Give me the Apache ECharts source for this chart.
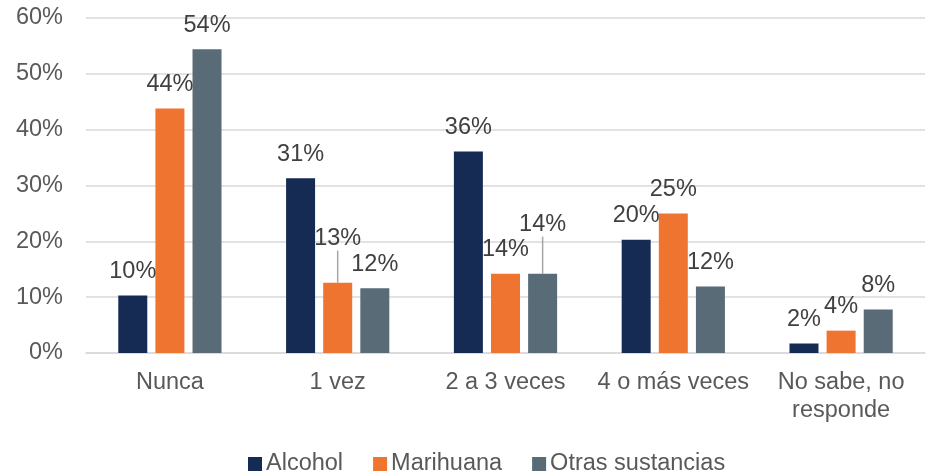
<!DOCTYPE html>
<html>
<head>
<meta charset="utf-8">
<script src="https://cdn.jsdelivr.net/npm/echarts@6/dist/echarts.min.js"></script>
<style>
  html, body { margin: 0; padding: 0; background: #fff; }
  #chart { width: 930px; height: 471px; }
</style>
</head>
<body>
<div id="chart"></div>
<script>
// categorias y valores (%)
const categories = ["Nunca", "1 vez", "2 a 3 veces", "4 o más veces", "No sabe, no\nresponde"];
const alcohol = [10.3, 31.3, 36.1, 20.3, 1.7];
const marihuana = [43.8, 12.6, 14.2, 25.0, 4.0];
const otras = [54.4, 11.6, 14.2, 11.9, 7.8];
const yTicks = [0, 10, 20, 30, 40, 50, 60];

// etiquetas desplazadas con linea guia: [serie, indice, dy]
const moved = [[1, 1, -20], [2, 2, -25]];

const font = "Arial, 'Liberation Sans', sans-serif";

function buildData(values, seriesIndex) {
    return values.map((v, i) => {
        const m = moved.find((x) => x[0] === seriesIndex && x[1] === i);
        if (!m) return v;
        return {
            value: v,
            labelLine: { show: true, lineStyle: { color: "#a6a6a6", width: 1.5 } },
        };
    });
}

function makeSeries(name, values, color, seriesIndex) {
    return {
        name: name,
        type: "bar",
        barWidth: 29,
        barGap: "28%",
        itemStyle: { color: color },
        data: buildData(values, seriesIndex),
        label: {
            show: true,
            position: "top",
            distance: 12,
            color: "#404040",
            fontSize: 23.5,
            fontFamily: font,
            formatter: (p) => Math.round(p.value) + "%",
        },
        labelLayout: (params) => {
            const m = moved.find((x) => x[0] === seriesIndex && x[1] === params.dataIndex);
            return m ? { dy: m[2] } : {};
        },
    };
}

const chart = echarts.init(document.getElementById("chart"));

const option = {
    backgroundColor: "#ffffff",
    animation: false,
    grid: { left: 86, right: 5, top: 18, bottom: 118 },
    legend: {
        top: 447,
        left: 243,
        itemWidth: 14,
        itemHeight: 14,
        itemGap: 30,
        icon: "rect",
        textStyle: { color: "#595959", fontSize: 23.5, fontFamily: font, padding: [0, 0, 0, -1] },
        data: ["Alcohol", "Marihuana", "Otras sustancias"],
    },
    xAxis: {
        type: "category",
        data: categories,
        axisLine: { lineStyle: { color: "#d9d9d9", width: 1.5 } },
        axisTick: { show: false },
        axisLabel: {
            color: "#595959",
            fontSize: 23.5,
            fontFamily: font,
            margin: 16,
            lineHeight: 28,
            interval: 0,
        },
    },
    yAxis: {
        type: "value",
        min: yTicks[0],
        max: yTicks[yTicks.length - 1],
        interval: 10,
        axisLine: { show: false },
        axisTick: { show: false },
        splitLine: { lineStyle: { color: "#d9d9d9", width: 1.5 } },
        axisLabel: {
            color: "#595959",
            fontSize: 23.5,
            fontFamily: font,
            margin: 23,
            formatter: "{value}%",
        },
    },
    series: [
        makeSeries("Alcohol", alcohol, "#152b54", 0),
        makeSeries("Marihuana", marihuana, "#ee7430", 1),
        makeSeries("Otras sustancias", otras, "#596b76", 2),
    ],
};

chart.setOption(option);
</script>
</body>
</html>
